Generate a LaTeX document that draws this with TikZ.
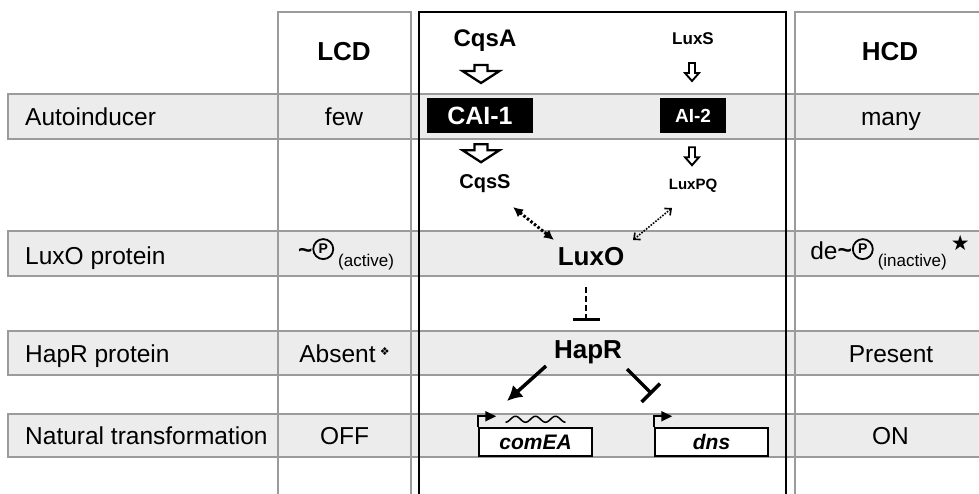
\documentclass[tikz,border=0pt]{standalone}
\usepackage{fontspec}
\setmainfont{Liberation Sans}
\newfontfamily\symfont{DejaVu Sans}
\usetikzlibrary{arrows.meta,calc}
\definecolor{bandfill}{RGB}{236,236,236}
\definecolor{gridgray}{RGB}{155,155,155}
\newcommand{\myfs}[1]{\fontsize{#1}{#1}\selectfont}
\newcommand{\circP}{\tikz[baseline={([yshift=1pt]cp.south)}]\node[circle, draw, line width=1.8, inner sep=0pt, minimum size=20pt, font=\bfseries\myfs{14}] (cp) {P};}
\tikzset{
  gridline/.style={draw=gridgray, line width=1.6},
  lbl/.style={anchor=base west, inner sep=0, font=\myfs{24.5}},
  cell/.style={anchor=base, inner sep=0, font=\myfs{24.5}},
  hdr/.style={anchor=base, inner sep=0, font=\bfseries\myfs{26}},
  ctr/.style={anchor=base, inner sep=0, font=\bfseries\myfs{#1}},
  blk/.style={fill=black, text=white, inner sep=0},
  gene/.style={draw, fill=white, line width=1.5, inner sep=0, minimum width=113, minimum height=28, font=\bfseries\itshape\myfs{21}},
  bigho/.pic={\draw[line width=2.3, fill=white, line join=miter] (-6.5,0) -- (-6.5,6) -- (-18.5,6) -- (0,18) -- (18.5,6) -- (6.5,6) -- (6.5,0) -- cycle;},
  smallho/.pic={\draw[line width=1.9, fill=white, line join=miter] (-3,0) -- (-3,10) -- (-7,10) -- (0,18) -- (7,10) -- (3,10) -- (3,0) -- cycle;},
  thickarrow/.style={line width=3.5, -{Latex[length=15,width=16]}},
  inhib/.style={line width=3.5, -{Bar[width=26]}},
  promoter/.style={line width=1.8, -{Triangle[length=11,width=10]}}
}
\begin{document}
\begin{tikzpicture}[x=1pt,y=-1pt]
\useasboundingbox[fill=white] (0,0) rectangle (979,493);
% bands
\foreach \t/\b in {94/139,231/276,331/375,414/457}{
  \fill[bandfill] (8,\t) rectangle (990,\b);
  \draw[gridline] (990,\t) -- (8,\t) -- (8,\b) -- (990,\b);
}
% columns
\draw[gridline] (278,500) -- (278,12) -- (411,12) -- (411,500);
\draw[gridline] (795,500) -- (795,12) -- (990,12);
\draw[line width=1.8] (419,500) -- (419,12) -- (786,12) -- (786,500);
% headers and labels
\node[hdr] (lcd) at (344,60) {LCD};
\node[hdr] (hcd) at (890,60) {HCD};
\node[lbl] (r1) at (25,125) {Autoinducer};
\node[lbl] (r2) at (25,264) {LuxO protein};
\node[lbl] (r3) at (25,362) {HapR protein};
\node[lbl] (r4) at (25,444) {Natural transformation};
% LCD column
\node[cell] (few) at (344,125) {few};
\node[cell] (act) at (346,259) {\raisebox{1pt}{\textbf{\textasciitilde}}\circP\,\raisebox{-7pt}{\myfs{17}(active)}};
\node[cell] (abs) at (344.5,362) {Absent\,\raisebox{7pt}{\symfont\myfs{11}❖}};
\node[cell] (off) at (344.5,444) {OFF};
% HCD column
\node[cell] (many) at (891,125) {many};
\node[cell] (inact) at (890,259) {de\raisebox{1pt}{\textbf{\textasciitilde}}\circP\,\raisebox{-7pt}{\myfs{17}(inactive)}\,\raisebox{9pt}{\symfont\myfs{21}★}};
\node[cell] (pres) at (891,362) {Present};
\node[cell] (on) at (890.5,444) {ON};
% center pathway
\node[ctr=24] (cqsa) at (485,46) {CqsA};
\node[ctr=17] (luxs) at (693,44) {LuxS};
\node[blk, minimum width=106, minimum height=35, font=\bfseries\myfs{25}] (cai) at (480,115.5) {CAI-1};
\node[blk, minimum width=66, minimum height=35, font=\bfseries\myfs{19}] (ai2) at (693,115.5) {AI-2};
\node[ctr=20] (cqss) at (485,188) {CqsS};
\node[ctr=15] (luxpq) at (693,189) {LuxPQ};
\node[ctr=26] (luxo) at (591,265) {LuxO};
\node[ctr=26] (hapr) at (588,358) {HapR};
\node[gene] (comea) at (535.5,442) {comEA};
\node[gene] (dns) at (711.5,442) {dns};
% hollow arrows
\pic at ([shift={(-4,19)}]cqsa.base) {bigho};
\pic at ([shift={(1,11)}]cai.south) {bigho};
\pic at ([shift={(-1,19)}]luxs.base) {smallho};
\pic at ([shift={(-1,14)}]ai2.south) {smallho};
% dotted interactions
\draw[line width=3, dash pattern=on 2.5pt off 2pt, {Latex[length=10,width=10]}-{Latex[length=10,width=10]}]
  ([shift={(28,19)}]cqss.base) -- ([shift={(-37,-25)}]luxo.base);
\draw[line width=1.6, dash pattern=on 1.6pt off 1.4pt, {Straight Barb[length=5,width=9]}-{Straight Barb[length=5,width=9]}]
  ([shift={(-21,19)}]luxpq.base) -- ([shift={(42,-25)}]luxo.base);
% LuxO -| HapR
\draw[line width=2.6, dash pattern=on 6pt off 3pt, -{Bar[width=27,line width=3.5]}]
  ([shift={(-5,22)}]luxo.base) -- ([shift={(-2,-37)}]hapr.base);
% HapR -> comEA, HapR -| dns
\draw[thickarrow] ([shift={(-42,8)}]hapr.base) -- ([shift={(-28.5,-41)}]comea.center);
\draw[inhib] ([shift={(39,11)}]hapr.base) -- ([shift={(-59.5,-48)}]dns.center);
% promoters
\draw[promoter] (comea.north west) -- ++(0,-11) -- ++(18,0);
\draw[promoter] (dns.north west) -- ++(0,-11) -- ++(18,0);
% transcript
\draw[line width=1.5, shift={(comea.north)}] plot[domain=0:60, samples=90, smooth] ({\x-30}, {-8+3*cos(18*\x)});
\end{tikzpicture}
\end{document}
